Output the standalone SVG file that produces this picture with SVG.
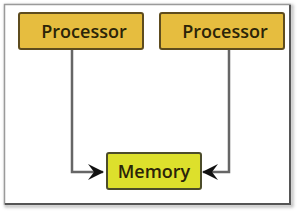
<svg xmlns="http://www.w3.org/2000/svg" width="300" height="214" viewBox="0 0 300 214">
<defs>
<marker id="ah" viewBox="0 0 16 16" refX="15" refY="8" markerWidth="16" markerHeight="16" markerUnits="userSpaceOnUse" orient="auto">
<path d="M0,0 L16,8 L0,16 L6,8 Z" fill="#111"/>
</marker>
<filter id="sh" x="-5%" y="-5%" width="115%" height="115%"><feGaussianBlur stdDeviation="1.5"/></filter>
</defs>
<style>
.proc{fill:#e6bd3f;stroke:#5e4c1e;stroke-width:2}
.mem{fill:#dde02c;stroke:#4c4c2a;stroke-width:2}
.lbl{font-family:"Open Sans","Noto Sans",sans-serif;font-size:18px;font-weight:600;fill:#2b2408;text-anchor:middle}
.conn{fill:none;stroke:#666;stroke-width:2.5}
</style>
<rect width="300" height="214" fill="#fff"/>
<g id="frame">
<rect x="6" y="6" width="286" height="200" fill="none" stroke="#bbb" stroke-width="3" filter="url(#sh)"/>
<rect x="4.5" y="4.5" width="285.5" height="199.5" fill="#fff" stroke="#9a9a9a" stroke-width="1.5"/>
<path d="M290,5 V204 H5" fill="none" stroke="#555" stroke-width="2"/>
</g>
<g id="connectors">
<path class="conn" d="M72,49 V172 H103" marker-end="url(#ah)"/>
<path class="conn" d="M229,49 V172 H203" marker-end="url(#ah)"/>
</g>
<g id="processor1">
<rect class="proc" x="19" y="13" width="124" height="36" rx="2"/>
<text class="lbl" x="84" y="37.5">Processor</text>
</g>
<g id="processor2">
<rect class="proc" x="160" y="13" width="124" height="36" rx="2"/>
<text class="lbl" x="225" y="37.5">Processor</text>
</g>
<g id="memory">
<rect class="mem" x="107" y="153" width="94" height="36" rx="2"/>
<text class="lbl" x="154" y="177.5">Memory</text>
</g>
</svg>
